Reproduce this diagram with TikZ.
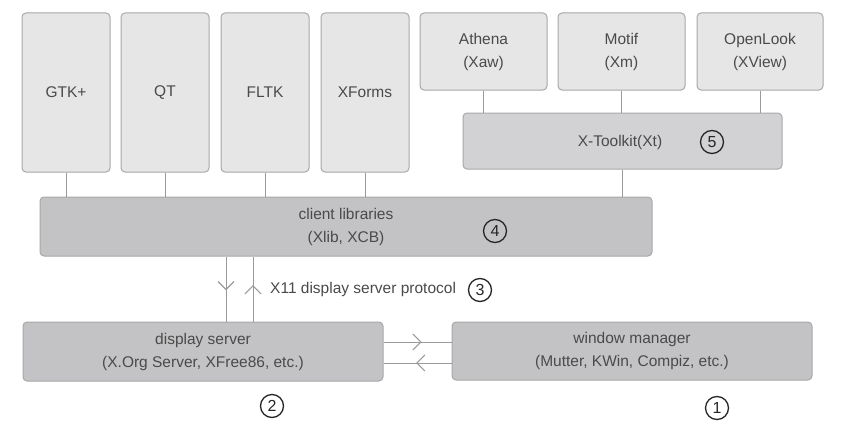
\documentclass[tikz,border=0pt]{standalone}
\usepackage{fontspec}
\setmainfont{Liberation Sans}
\usetikzlibrary{arrows.meta,decorations.markings}
\definecolor{lightbox}{HTML}{E6E6E6}
\definecolor{midbox}{HTML}{D2D2D4}
\definecolor{darkbox}{HTML}{C3C3C5}
\definecolor{edgegray}{HTML}{A8A8A8}
\definecolor{linegray}{HTML}{9A9A9A}
\definecolor{txtgray}{HTML}{4A4A4A}
\begin{document}
\begin{tikzpicture}[x=1pt,y=-1pt,
  box/.style={draw=edgegray,line width=1pt,rounded corners=4pt,text=txtgray,align=center,
    font=\fontsize{15.5}{23}\selectfont,inner sep=0pt},
  topbox/.style={box,fill=lightbox},
  xtbox/.style={box,fill=midbox},
  lowbox/.style={box,fill=darkbox},
  conn/.style={draw=linegray,line width=1pt},
  midarrow/.style={conn,postaction={decorate},decoration={markings,
    mark=at position #1 with {\arrow[linegray,line width=1.1pt]{Straight Barb[length=8pt,width=16pt]}}}},
  numc/.style={circle,draw=black!85,line width=1.3pt,minimum size=23pt,inner sep=0pt,
    font=\fontsize{16}{16}\selectfont,text=black!85},
  lbl/.style={text=txtgray,font=\fontsize{15.5}{18}\selectfont,inner sep=0pt}
]
\useasboundingbox (0,0) rectangle (846,428);
\fill[white] (0,0) rectangle (846,428);

% top toolkit boxes
\node[topbox,minimum width=88pt,minimum height=159pt] (gtk) at (66,92.5) {GTK+};
\node[topbox,minimum width=88pt,minimum height=159pt] (qt) at (165,92.5) {QT};
\node[topbox,minimum width=88pt,minimum height=159pt] (fltk) at (265,92.5) {FLTK};
\node[topbox,minimum width=88pt,minimum height=159pt] (xforms) at (365,92.5) {XForms};

\node[topbox,minimum width=127pt,minimum height=77pt] (athena) at (483.5,51.5) {Athena\\(Xaw)};
\node[topbox,minimum width=127pt,minimum height=77pt] (motif) at (621.5,51.5) {Motif\\(Xm)};
\node[topbox,minimum width=126pt,minimum height=77pt] (openlook) at (760,51.5) {OpenLook\\(XView)};

% X toolkit
\node[xtbox,minimum width=319pt,minimum height=56pt] (xt) at (622.5,141) {};
\node[lbl] (xtl) at (620,142) {X-Toolkit(Xt)};
\node[numc] (n5) at (712,142) {5};

% client libraries
\node[lowbox,minimum width=612pt,minimum height=59pt] (clib) at (346,226.5) {client libraries\\(Xlib, XCB)};
\node[numc] (n4) at (495,231) {4};

% display server and window manager
\node[lowbox,minimum width=360pt,minimum height=59pt] (ds) at (203,351.5) {display server\\(X.Org Server, XFree86, etc.)};
\node[lowbox,minimum width=360pt,minimum height=58pt] (wm) at (632,351) {window manager\\(Mutter, KWin, Compiz, etc.)};

% protocol label
\node[lbl,anchor=west] (proto) at (270,289) {X11 display server protocol};
\node[numc] (n3) at (480,290) {3};

\node[numc] (n2) at (272,406) {2};
\node[numc] (n1) at (717,408) {1};

% connectors
\foreach \b in {gtk,qt,fltk,xforms}{
  \draw[conn] (\b.south) -- (\b.south |- clib.north);
}
\foreach \b in {athena,motif,openlook}{
  \draw[conn] (\b.south) -- (\b.south |- xt.north);
}
\draw[conn] (xt.south) -- (xt.south |- clib.north);

\draw[midarrow=0.52] (226,0 |- clib.south) -- (226,0 |- ds.north);
\draw[midarrow=0.56] (253,0 |- ds.north) -- (253,0 |- clib.south);

\draw[midarrow=0.56] (ds.east |- 0,342) -- (wm.west |- 0,342);
\draw[midarrow=0.52] (wm.west |- 0,363) -- (ds.east |- 0,363);
\end{tikzpicture}
\end{document}
